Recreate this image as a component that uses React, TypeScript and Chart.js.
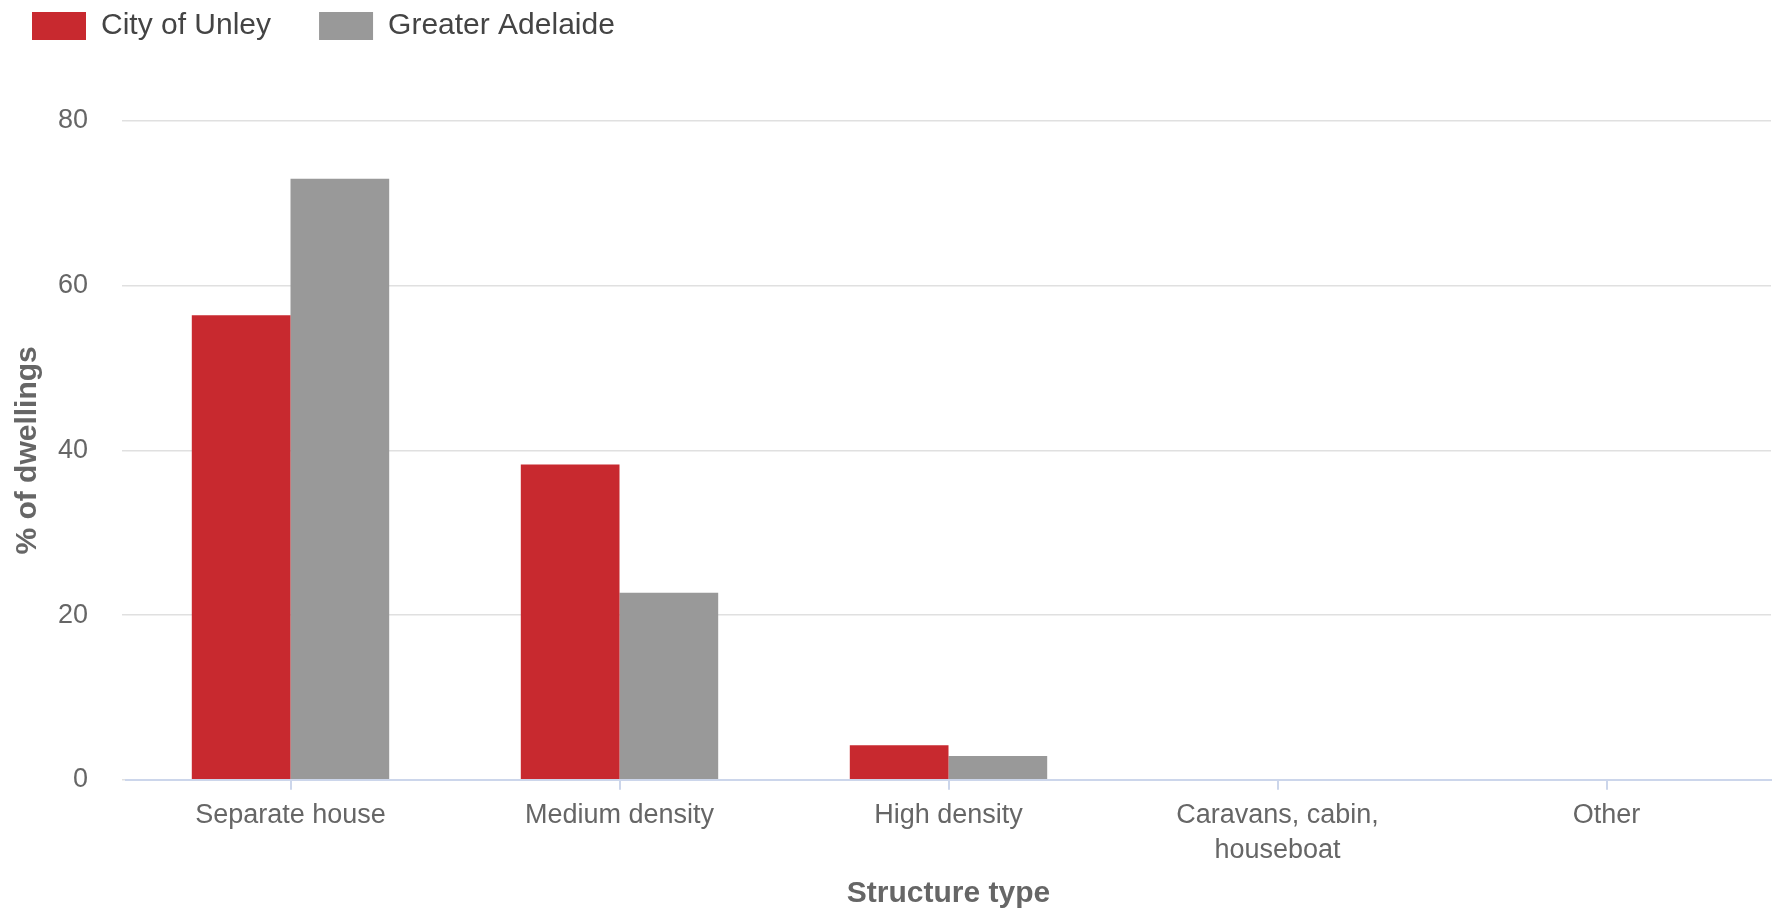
import React, { useEffect, useRef } from 'react';
import { Chart, registerables } from 'chart.js';

Chart.register(...registerables);

const categories: (string | string[])[] = [
  'Separate house',
  'Medium density',
  'High density',
  ['Caravans, cabin,', 'houseboat'],
  'Other',
];
const seriesNames = ['City of Unley', 'Greater Adelaide'];
const unleyValues = [56.4, 38.3, 4.2, 0.0, 0.0];
const adelaideValues = [73.0, 22.7, 2.9, 0.0, 0.0];
const yMin = 0;
const yMax = 80;
const yStep = 20;

const FONT = "'Liberation Sans', Arial, sans-serif";

const legendSpacer = {
  id: 'legendSpacer',
  beforeInit(chart: any) {
    const legend = chart.legend;
    if (!legend) return;
    const origFit = legend.fit;
    legend.fit = function () {
      origFit.call(this);
      this.height += 70;
    };
  },
};

export default function App() {
  const ref = useRef<HTMLCanvasElement | null>(null);

  useEffect(() => {
    if (!ref.current) return;
    const chart = new Chart(ref.current, {
      type: 'bar',
      data: {
        labels: categories as any,
        datasets: [
          {
            label: seriesNames[0],
            data: unleyValues,
            backgroundColor: '#c8292f',
            borderWidth: 0,
            categoryPercentage: 0.6,
            barPercentage: 1.0,
          },
          {
            label: seriesNames[1],
            data: adelaideValues,
            backgroundColor: '#999999',
            borderWidth: 0,
            categoryPercentage: 0.6,
            barPercentage: 1.0,
          },
        ],
      },
      options: {
        animation: false,
        responsive: true,
        maintainAspectRatio: false,
        layout: { padding: { top: -37, left: -16, right: 4, bottom: 0 } },
        plugins: {
          legend: {
            position: 'top',
            align: 'start',
            labels: {
              boxWidth: 54,
              boxHeight: 28,
              padding: 48,
              color: '#444444',
              font: { family: FONT, size: 30 },
            },
          },
          tooltip: { enabled: false },
        },
        scales: {
          x: {
            offset: true,
            grid: {
              offset: false,
              drawOnChartArea: false,
              drawTicks: true,
              tickLength: 10,
              color: '#ccd6eb',
              lineWidth: 2,
            },
            border: { display: true, color: '#ccd6eb', width: 2 },
            ticks: {
              color: '#666666',
              padding: 8,
              maxRotation: 0,
              autoSkip: false,
              font: { family: FONT, size: 27, lineHeight: 1.3 },
            },
            title: {
              display: true,
              text: 'Structure type',
              color: '#666666',
              font: { family: FONT, size: 30, weight: 'bold' },
              padding: { top: 0, bottom: 2 },
            },
          },
          y: {
            min: yMin,
            max: yMax,
            afterFit: (scale: any) => {
              scale.width = 142;
            },
            grid: {
              color: '#e0e0e0',
              lineWidth: 1.5,
              drawTicks: true,
              tickLength: 4,
            },
            border: { display: false },
            ticks: {
              stepSize: yStep,
              color: '#666666',
              padding: 34,
              font: { family: FONT, size: 27 },
            },
            title: {
              display: true,
              text: '% of dwellings',
              color: '#666666',
              font: { family: FONT, size: 30, weight: 'bold' },
              padding: { top: 26, bottom: 4 },
            },
          },
        },
      },
      plugins: [legendSpacer],
    });
    return () => chart.destroy();
  }, []);

  return (
    <div
      style={{
        position: 'fixed',
        left: 0,
        top: 0,
        width: '1775px',
        height: '914px',
        background: '#ffffff',
      }}
    >
      <canvas ref={ref} />
    </div>
  );
}
